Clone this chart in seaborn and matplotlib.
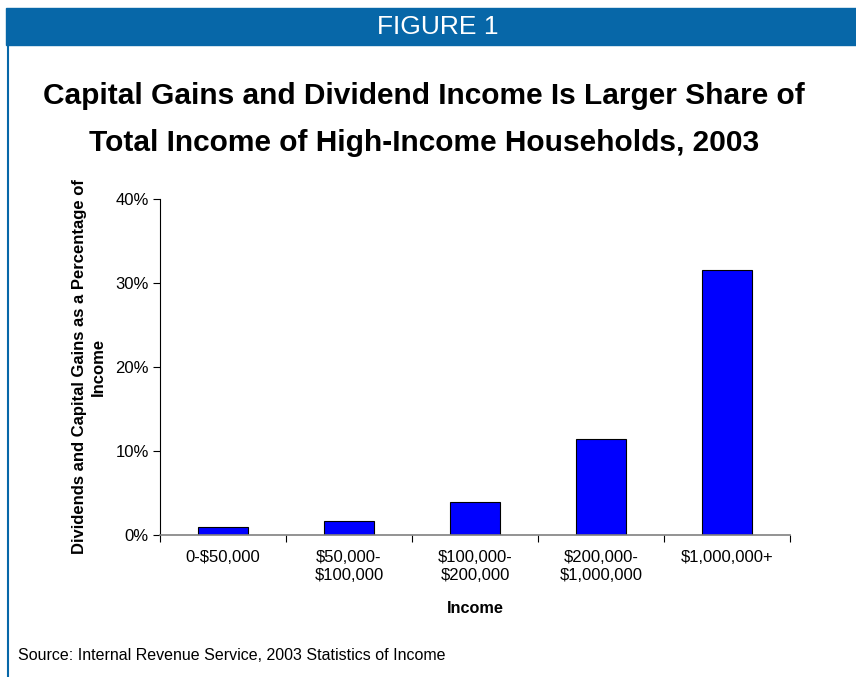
import matplotlib
matplotlib.use("Agg")
import matplotlib.pyplot as plt
import seaborn as sns
import pandas as pd
from matplotlib.patches import Rectangle
from matplotlib.lines import Line2D
from matplotlib.ticker import FuncFormatter, FixedLocator

# Data
income_groups = ["0-$50,000", "$50,000-\n$100,000", "$100,000-\n$200,000",
                 "$200,000-\n$1,000,000", "$1,000,000+"]
share_pct = [1.0, 1.7, 3.9, 11.4, 31.6]
y_ticks = [0, 10, 20, 30, 40]

title = "Capital Gains and Dividend Income Is Larger Share of\nTotal Income of High-Income Households, 2003"
y_label = "Dividends and Capital Gains as a Percentage of\nIncome"
x_label = "Income"
source = "Source: Internal Revenue Service, 2003 Statistics of Income"
header = "FIGURE 1"

df = pd.DataFrame({"Income": income_groups, "Share": share_pct})

sns.set_theme(style="white")
plt.rcParams["font.family"] = ["Liberation Sans", "DejaVu Sans"]
plt.rcParams["text.color"] = "black"
plt.rcParams["axes.labelcolor"] = "black"
plt.rcParams["xtick.color"] = "black"
plt.rcParams["ytick.color"] = "black"

fig = plt.figure(figsize=(8.56, 6.77), dpi=100)
W, H = 856, 677

# header band and frame
fig.patches.append(Rectangle((6 / W, 1 - 45 / H), 850 / W, 37 / H,
                             transform=fig.transFigure, color="#0767A8", zorder=0))
fig.lines.append(Line2D([8 / W, 8 / W], [0, 1 - 45 / H], transform=fig.transFigure,
                        color="#0767A8", lw=1.5))
fig.text(438 / W, 1 - 27 / H, header, color="white", ha="center", va="center",
         fontsize=19, family=["Liberation Sans Narrow", "Liberation Sans"])

fig.text(424 / W, 1 - 119.5 / H, title, ha="center", va="center", fontsize=21.5,
         fontweight="bold", linespacing=1.82)

ax = fig.add_axes([160 / W, 1 - 535 / H, 630 / W, 336 / H])
sns.barplot(data=df, x="Income", y="Share", ax=ax, color="#0000FF", saturation=1,
            width=0.4, edgecolor="black", linewidth=0.8)

ax.set_ylim(0, 40)
ax.set_xlim(-0.5, len(income_groups) - 0.5)
ax.set_yticks(y_ticks)
ax.yaxis.set_major_formatter(FuncFormatter(lambda v, p: f"{v:.0f}%"))
ax.tick_params(axis="y", labelsize=12, length=5, width=0.8, left=True, pad=3)
ax.tick_params(axis="x", labelsize=12, length=0, pad=11)
ax.xaxis.set_minor_locator(FixedLocator([i - 0.5 for i in range(len(income_groups) + 1)]))
ax.tick_params(axis="x", which="minor", bottom=True, length=5, width=0.8, color="black")

for s in ["top", "right"]:
    ax.spines[s].set_visible(False)
ax.spines["left"].set_color("black")
ax.spines["left"].set_linewidth(0.8)
ax.spines["bottom"].set_color("#808080")
ax.spines["bottom"].set_linewidth(1.2)

ax.set_xlabel(x_label, fontsize=11.7, fontweight="bold", labelpad=13)
ax.set_ylabel(y_label, fontsize=12, fontweight="bold", labelpad=7, linespacing=1.3)

fig.text(18 / W, 1 - 656 / H, source, ha="left", va="center", fontsize=11.5)

fig.savefig("out.png", dpi=100)
